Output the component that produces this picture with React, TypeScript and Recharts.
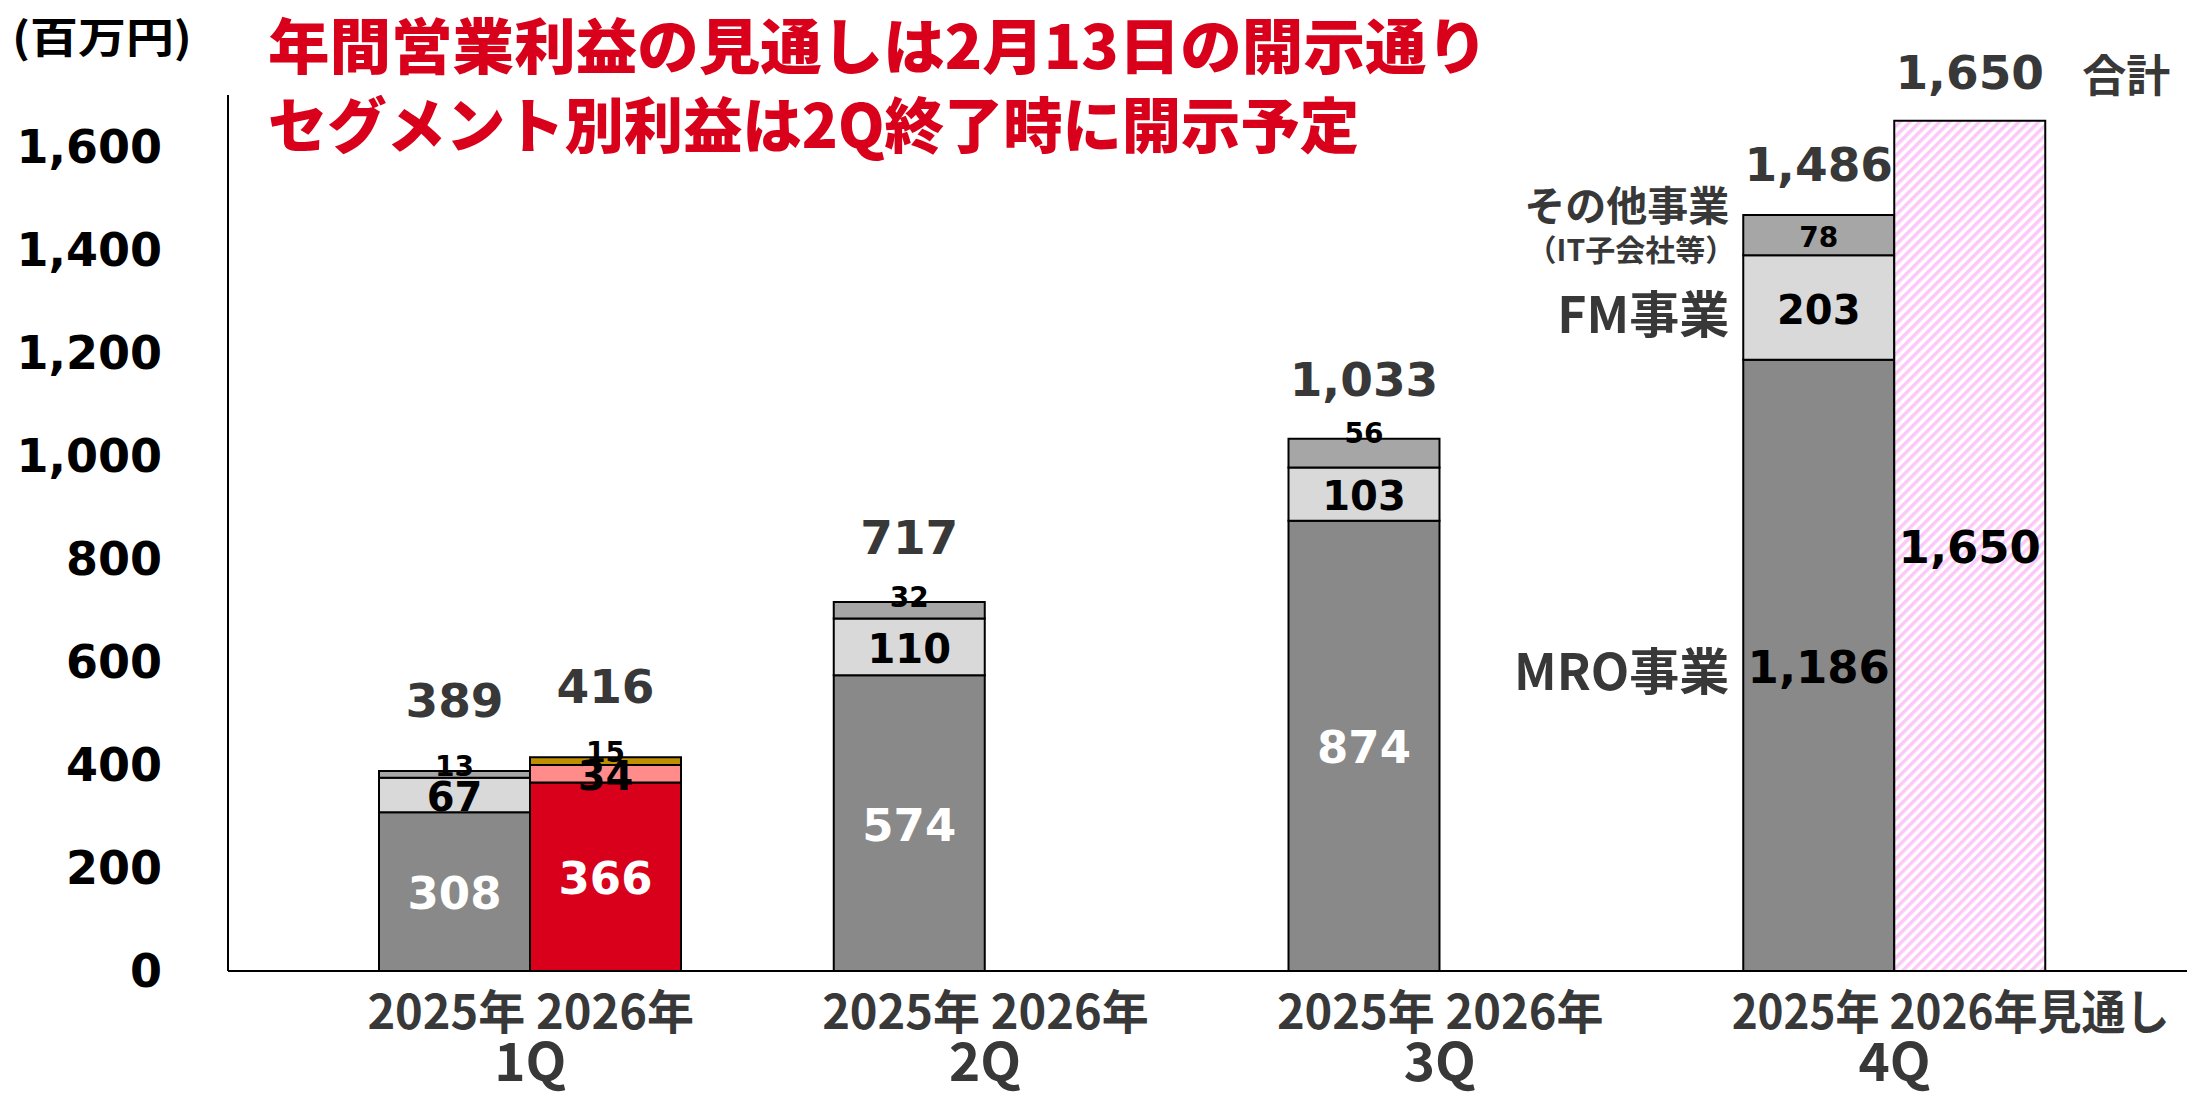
import React from 'react';
import { BarChart, Bar, XAxis, YAxis, LabelList, Cell } from 'recharts';

// ---------- data ----------
const categories = ['1Q', '2Q', '3Q', '4Q'];
const yearLabels = ['2025年 2026年', '2025年 2026年', '2025年 2026年', '2025年 2026年見通し'];
const mro2025 = [308, 574, 874, 1186];
const fm2025 = [67, 110, 103, 203];
const other2025 = [13, 32, 56, 78];
const total2025 = [389, 717, 1033, 1486];
const mro2026 = [366, null, null, null];
const fm2026 = [34, null, null, null];
const other2026 = [15, null, null, null];
const forecast2026 = [null, null, null, 1650];
const total2026 = [416, null, null, 1650];
const yTicks = [0, 200, 400, 600, 800, 1000, 1200, 1400, 1600];
const segmentNames = ['MRO事業', 'FM事業', 'その他事業', '（IT子会社等）'];
const totalWord = '合計';
const unitLabel = '(百万円)';
const titleLines = ['年間営業利益の見通しは2月13日の開示通り', 'セグメント別利益は2Q終了時に開示予定'];

const data = categories.map((q, i) => ({
  q,
  mro2025: mro2025[i],
  fm2025: fm2025[i],
  other2025: other2025[i],
  total2025: total2025[i],
  mro2026: mro2026[i],
  fm2026: fm2026[i],
  other2026: other2026[i],
  forecast2026: forecast2026[i],
  totalActual2026: forecast2026[i] == null ? total2026[i] : null,
  totalForecast2026: forecast2026[i] == null ? null : total2026[i],
  side: i === categories.length - 1 ? 1 : null,
}));

// ---------- styles ----------
const W = 2187;
const H = 1097;
const NUM = "'DejaVu Sans', Verdana, sans-serif";
const JP = "'Noto Sans CJK JP', 'Noto Sans', sans-serif";
const C_MRO = '#898989';
const C_FM = '#d9d9d9';
const C_OTHER = '#a6a6a6';
const C_RED = '#d9001b';
const C_PINK = '#ff8b8b';
const C_GOLD = '#bf8f00';
const C_TEXT = '#383838';

const fmt = (v: number) => Number(v).toLocaleString('en-US');
const isNum = (v: any) => v !== null && v !== undefined && !isNaN(Number(v)) && Number(v) !== 0;

const segLabel = (color: string, size: number, mode: 'center' | 'top') => (p: any) => {
  const { x, y, width, height, value } = p;
  if (!isNum(value)) return null;
  const h = Number(height);
  let cy = Number(y) + h / 2 + 2;
  if (mode === 'top' && h < 35) cy = Number(y) - 5;
  return (
    <text x={Number(x) + Number(width) / 2} y={cy} textAnchor="middle" dominantBaseline="central"
      fill={color} fontSize={size} fontFamily={NUM} fontWeight={700}>{fmt(value)}</text>
  );
};

const totalLabel = (withWord: boolean) => (p: any) => {
  const { x, y, width, value } = p;
  if (!isNum(value)) return null;
  const cx = Number(x) + Number(width) / 2;
  const lift = 48 + 30 * (1 - Number(value) / 1650);
  const cy = Number(y) - lift;
  return (
    <g>
      <text x={cx} y={cy} textAnchor="middle" dominantBaseline="central" fill={C_TEXT}
        fontSize={47} fontFamily={NUM} fontWeight={700}>{fmt(value)}</text>
      {withWord ? (
        <text x={Number(x) + Number(width) + 37} y={cy} textAnchor="start" dominantBaseline="central"
          fill={C_TEXT} fontSize={44} fontFamily={JP} fontWeight={700}>{totalWord}</text>
      ) : null}
    </g>
  );
};

const sideLabel = (names: string[]) => (p: any) => {
  const { x, y, height, value } = p;
  if (!isNum(value)) return null;
  const rx = Number(x) - 14;
  const cy = Number(y) + Number(height) / 2;
  if (names.length === 1) {
    return (
      <text x={rx} y={cy + 3} textAnchor="end" dominantBaseline="central" fill={C_TEXT}
        fontSize={50} fontFamily={JP} fontWeight={700}>{names[0]}</text>
    );
  }
  return (
    <g>
      <text x={rx} y={cy - 32} textAnchor="end" dominantBaseline="central" fill={C_TEXT}
        fontSize={41} fontFamily={JP} fontWeight={700}>{names[0]}</text>
      <text x={rx + 6} y={cy + 13} textAnchor="end" dominantBaseline="central" fill={C_TEXT}
        fontSize={30} fontFamily={JP} fontWeight={700}>{names[1]}</text>
    </g>
  );
};

const YTick = (p: any) => {
  const { x, y, payload } = p;
  return (
    <text x={x} y={y} textAnchor="end" dominantBaseline="central" fill="#000"
      fontSize={46} fontFamily={NUM} fontWeight={700}>{fmt(payload.value)}</text>
  );
};

const XTick = (p: any) => {
  const { x, y, payload } = p;
  const i = categories.indexOf(payload.value);
  const label = yearLabels[i] || '';
  const long = label.length > 11;
  return (
    <g>
      <text x={x - 163} y={y + 37} textAnchor="start" dominantBaseline="central" fill={C_TEXT}
        fontSize={47} fontFamily={JP} fontWeight={700}
        {...(long ? { textLength: 438, lengthAdjust: 'spacingAndGlyphs' } : {})}>{label}</text>
      <text x={x} y={y + 87} textAnchor="middle" dominantBaseline="central" fill={C_TEXT}
        fontSize={53} fontFamily={JP} fontWeight={700}>{payload.value}</text>
    </g>
  );
};

const barStroke = { stroke: '#000', strokeWidth: 2 };

export default function App() {
  return (
    <div style={{ position: 'absolute', left: 0, top: 0, width: W, height: H, background: '#fff' }}>
      <svg width={0} height={0} style={{ position: 'absolute' }}>
        <defs>
          <pattern id="hatch" patternUnits="userSpaceOnUse" width={7} height={7} patternTransform="rotate(45)">
            <rect width={7} height={7} fill="#ffffff" />
            <rect width={3.5} height={7} fill="#fbc8f8" />
          </pattern>
        </defs>
      </svg>
      <BarChart width={W} height={H} data={data} margin={{ top: 95, right: 0, bottom: 0, left: 0 }}
        barSize={151} barGap={0}>
        <XAxis dataKey="q" interval={0} padding={{ left: 75, right: 65 }} height={126}
          tickLine={false} tickSize={0} tickMargin={0} axisLine={{ stroke: '#000', strokeWidth: 2 }}
          tick={<XTick />} />
        <YAxis domain={[0, 1700]} ticks={yTicks} width={228} tickLine={false} tickSize={0} tickMargin={66}
          axisLine={{ stroke: '#000', strokeWidth: 2 }} tick={<YTick />} allowDataOverflow />
        <Bar dataKey="mro2025" stackId="a" fill={C_MRO} {...barStroke} isAnimationActive={false}>
          <LabelList dataKey="mro2025" content={(p: any) => segLabel(Number(p.value) > 1000 ? '#000' : '#fff', 45, 'center')(p)} />
          <LabelList dataKey="side" content={sideLabel([segmentNames[0]])} />
        </Bar>
        <Bar dataKey="fm2025" stackId="a" fill={C_FM} {...barStroke} isAnimationActive={false}>
          <LabelList dataKey="fm2025" content={segLabel('#000', 40, 'center')} />
          <LabelList dataKey="side" content={sideLabel([segmentNames[1]])} />
        </Bar>
        <Bar dataKey="other2025" stackId="a" fill={C_OTHER} {...barStroke} isAnimationActive={false}>
          <LabelList dataKey="other2025" content={segLabel('#000', 28, 'top')} />
          <LabelList dataKey="side" content={sideLabel([segmentNames[2], segmentNames[3]])} />
          <LabelList dataKey="total2025" content={totalLabel(false)} />
        </Bar>
        <Bar dataKey="mro2026" stackId="b" fill={C_RED} {...barStroke} isAnimationActive={false}>
          <LabelList dataKey="mro2026" content={segLabel('#fff', 45, 'center')} />
        </Bar>
        <Bar dataKey="fm2026" stackId="b" fill={C_PINK} {...barStroke} isAnimationActive={false}>
          <LabelList dataKey="fm2026" content={segLabel('#000', 40, 'center')} />
        </Bar>
        <Bar dataKey="other2026" stackId="b" fill={C_GOLD} {...barStroke} isAnimationActive={false}>
          <LabelList dataKey="other2026" content={segLabel('#000', 28, 'top')} />
          <LabelList dataKey="totalActual2026" content={totalLabel(false)} />
        </Bar>
        <Bar dataKey="forecast2026" stackId="b" fill="url(#hatch)" {...barStroke} isAnimationActive={false}>
          {data.map((d, i) => <Cell key={i} fill="url(#hatch)" />)}
          <LabelList dataKey="forecast2026" content={segLabel('#000', 45, 'center')} />
          <LabelList dataKey="totalForecast2026" content={totalLabel(true)} />
        </Bar>
      </BarChart>
      <svg width={W} height={H} style={{ position: 'absolute', left: 0, top: 0, pointerEvents: 'none' }}>
        <text x={12} y={34} dominantBaseline="central" fill="#000" fontSize={42} fontFamily={JP}
          fontWeight={700} textLength={180} lengthAdjust="spacingAndGlyphs">{unitLabel}</text>
        <text x={268} y={42} dominantBaseline="central" fill={C_RED} fontSize={60} fontFamily={JP}
          fontWeight={900} textLength={1220} lengthAdjust="spacingAndGlyphs">{titleLines[0]}</text>
        <text x={268} y={121} dominantBaseline="central" fill={C_RED} fontSize={60} fontFamily={JP}
          fontWeight={900} textLength={1091} lengthAdjust="spacingAndGlyphs">{titleLines[1]}</text>
      </svg>
    </div>
  );
}
